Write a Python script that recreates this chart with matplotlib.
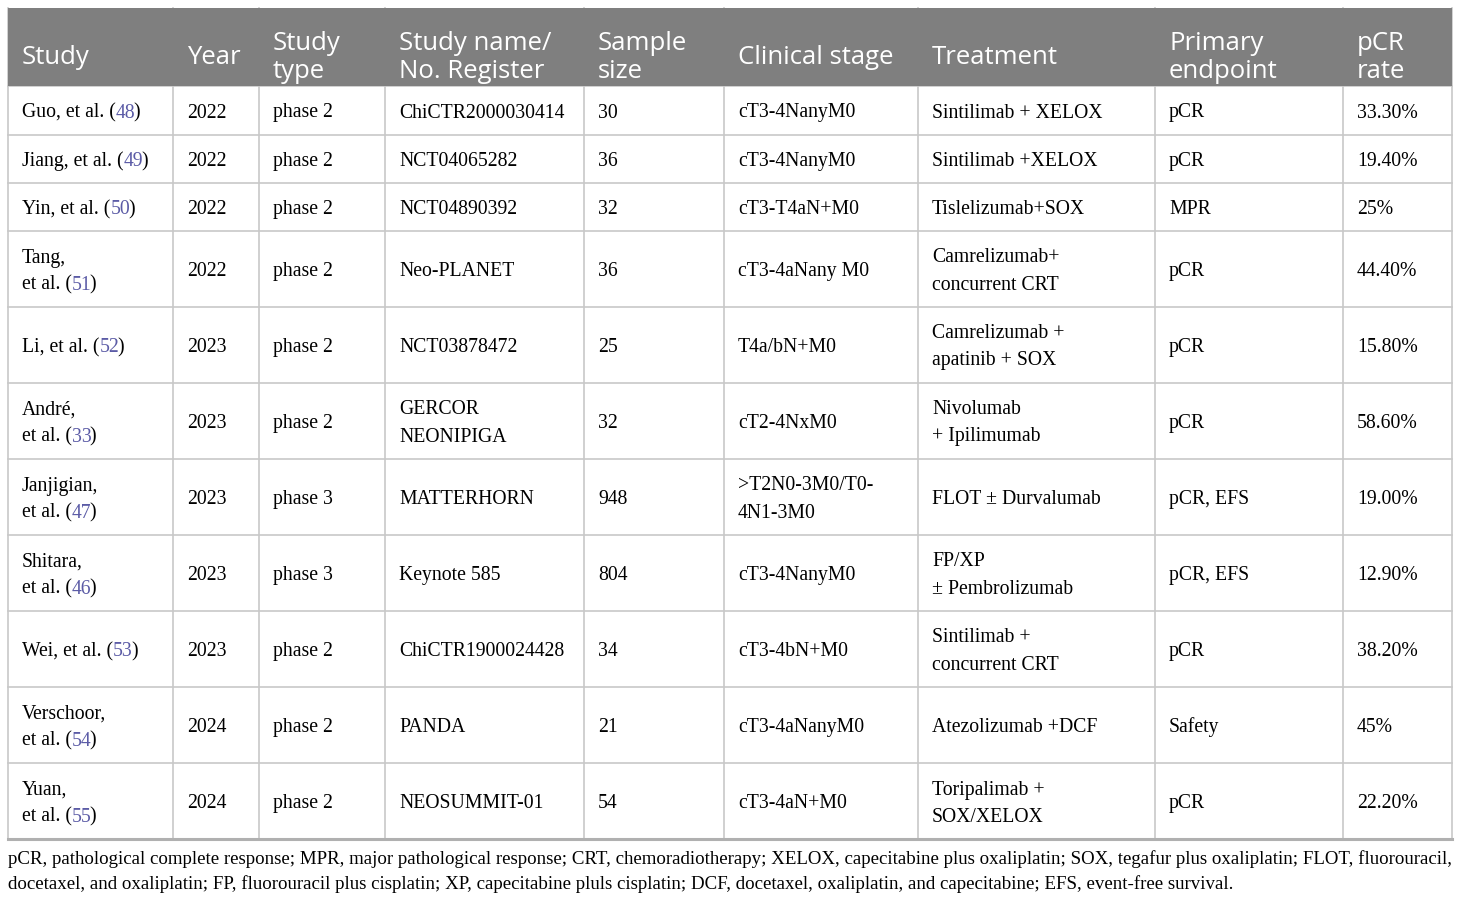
import matplotlib.pyplot as plt
from matplotlib.patches import Rectangle
from matplotlib.font_manager import FontProperties

headers = ["Study", "Year", "Study\ntype", "Study name/\nNo. Register", "Sample\nsize",
           "Clinical stage", "Treatment", "Primary\nendpoint", "pCR\nrate"]

authors = ["Guo, et al.", "Jiang, et al.", "Yin, et al.", "Tang,\net al.", "Li, et al.",
           "André,\net al.", "Janjigian,\net al.", "Shitara,\net al.", "Wei, et al.",
           "Verschoor,\net al.", "Yuan,\net al."]
refs = ["48", "49", "50", "51", "52", "33", "47", "46", "53", "54", "55"]
years = ["2022", "2022", "2022", "2022", "2023", "2023", "2023", "2023", "2023", "2024", "2024"]
types = ["phase 2"] * 6 + ["phase 3", "phase 3"] + ["phase 2"] * 3
names = ["ChiCTR2000030414", "NCT04065282", "NCT04890392", "Neo-PLANET", "NCT03878472",
         "GERCOR\nNEONIPIGA", "MATTERHORN", "Keynote 585", "ChiCTR1900024428", "PANDA",
         "NEOSUMMIT-01"]
samples = ["30", "36", "32", "36", "25", "32", "948", "804", "34", "21", "54"]
stages = ["cT3-4NanyM0", "cT3-4NanyM0", "cT3-T4aN+M0", "cT3-4aNany M0", "T4a/bN+M0",
          "cT2-4NxM0", ">T2N0-3M0/T0-\n4N1-3M0", "cT3-4NanyM0", "cT3-4bN+M0",
          "cT3-4aNanyM0", "cT3-4aN+M0"]
treatments = ["Sintilimab + XELOX", "Sintilimab +XELOX", "Tislelizumab+SOX",
              "Camrelizumab+\nconcurrent CRT", "Camrelizumab +\napatinib + SOX",
              "Nivolumab\n+ Ipilimumab", "FLOT ± Durvalumab", "FP/XP\n± Pembrolizumab",
              "Sintilimab +\nconcurrent CRT", "Atezolizumab +DCF", "Toripalimab +\nSOX/XELOX"]
endpoints = ["pCR", "pCR", "MPR", "pCR", "pCR", "pCR", "pCR, EFS", "pCR, EFS", "pCR",
             "Safety", "pCR"]
rates = ["33.30%", "19.40%", "25%", "44.40%", "15.80%", "58.60%", "19.00%", "12.90%",
         "38.20%", "45%", "22.20%"]

footnote = ["pCR, pathological complete response; MPR, major pathological response; CRT, chemoradiotherapy; "
            "XELOX, capecitabine plus oxaliplatin; SOX, tegafur plus oxaliplatin; FLOT, fluorouracil,",
            "docetaxel, and oxaliplatin; FP, fluorouracil plus cisplatin; XP, capecitabine pluls cisplatin; "
            "DCF, docetaxel, oxaliplatin, and capecitabine; EFS, event-free survival."]

col_x = [8, 173, 259, 385, 584, 724, 918, 1155, 1343, 1452]
row_y = [8, 86, 135, 183, 231, 307, 383, 459, 535, 611, 687, 763, 839]

W, H = 1460, 901
fig = plt.figure(figsize=(W / 100, H / 100), dpi=100)
ax = fig.add_axes([0, 0, 1, 1])
ax.set_xlim(0, W)
ax.set_ylim(H, 0)
ax.axis("off")

serif = "Liberation Serif"
body_fs = 14.2
line_gap = 27
grid = "#c8c8c8"
ref_col = "#5b5ba6"
body_font = FontProperties(family=serif, size=body_fs)

# header
ax.add_patch(Rectangle((col_x[0], row_y[0]), col_x[-1] - col_x[0], row_y[1] - row_y[0],
                       facecolor="#7f7f7f", edgecolor="none"))
for j, h in enumerate(headers):
    lines = h.split("\n")
    for k, ln in enumerate(lines):
        yy = 56 + (k - (len(lines) - 1) / 2) * 28 + 8
        ax.text(col_x[j] + 14, yy, ln, color="white", fontsize=18.5, family="Open Sans",
                va="baseline", ha="left")

# grid lines
for x in col_x:
    ax.plot([x, x], [row_y[0], row_y[-1]], color=grid, lw=1.2, zorder=0)
for y in row_y[1:]:
    ax.plot([col_x[0], col_x[-1]], [y, y], color=grid, lw=1.2, zorder=0)
ax.plot([col_x[0], col_x[-1]], [row_y[-1], row_y[-1]], color="#b0b0b0", lw=2.2)

rend = fig.canvas.get_renderer()


def width(s):
    w, h, d = rend.get_text_width_height_descent(s, body_font, ismath=False)
    return w


def put(x, y, s, color="black"):
    ax.text(x, y + 7, s, fontproperties=body_font, color=color, va="baseline", ha="left")


def cell(j, i, s):
    lines = s.split("\n")
    yc = (row_y[i + 1] + row_y[i + 2]) / 2
    for k, ln in enumerate(lines):
        put(col_x[j] + 14, yc + (k - (len(lines) - 1) / 2) * line_gap, ln)


for i in range(len(authors)):
    lines = authors[i].split("\n")
    yc = (row_y[i + 1] + row_y[i + 2]) / 2
    x0 = col_x[0] + 14
    for k, ln in enumerate(lines):
        yy = yc + (k - (len(lines) - 1) / 2) * line_gap
        if k == len(lines) - 1:
            pre = ln + " ("
            put(x0, yy, pre)
            put(x0 + width(pre), yy, refs[i], color=ref_col)
            put(x0 + width(pre + refs[i]) - 2, yy, ")")
        else:
            put(x0, yy, ln)
    for j, col in enumerate([years, types, names, samples, stages, treatments, endpoints, rates]):
        cell(j + 1, i, col[i])

for k, ln in enumerate(footnote):
    ax.text(8, 858 + k * 25 + 6, ln, fontsize=13.55, family=serif, va="baseline", ha="left")

fig.savefig("out.png", dpi=100)
